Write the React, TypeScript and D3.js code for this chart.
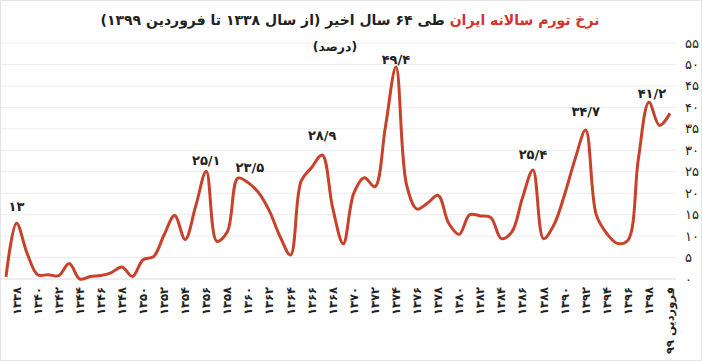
import { useEffect, useRef } from "react";
import * as d3 from "d3";

// categories (one per point, only every other one is labelled)
const categories: string[] = [
  "۱۳۳۷", "۱۳۳۸", "۱۳۳۹", "۱۳۴۰", "۱۳۴۱", "۱۳۴۲", "۱۳۴۳", "۱۳۴۴", "۱۳۴۵", "۱۳۴۶",
  "۱۳۴۷", "۱۳۴۸", "۱۳۴۹", "۱۳۵۰", "۱۳۵۱", "۱۳۵۲", "۱۳۵۳", "۱۳۵۴", "۱۳۵۵", "۱۳۵۶",
  "۱۳۵۷", "۱۳۵۸", "۱۳۵۹", "۱۳۶۰", "۱۳۶۱", "۱۳۶۲", "۱۳۶۳", "۱۳۶۴", "۱۳۶۵", "۱۳۶۶",
  "۱۳۶۷", "۱۳۶۸", "۱۳۶۹", "۱۳۷۰", "۱۳۷۱", "۱۳۷۲", "۱۳۷۳", "۱۳۷۴", "۱۳۷۵", "۱۳۷۶",
  "۱۳۷۷", "۱۳۷۸", "۱۳۷۹", "۱۳۸۰", "۱۳۸۱", "۱۳۸۲", "۱۳۸۳", "۱۳۸۴", "۱۳۸۵", "۱۳۸۶",
  "۱۳۸۷", "۱۳۸۸", "۱۳۸۹", "۱۳۹۰", "۱۳۹۱", "۱۳۹۲", "۱۳۹۳", "۱۳۹۴", "۱۳۹۵", "۱۳۹۶",
  "۱۳۹۷", "۱۳۹۸", "اسفند ۹۸", "فروردین ۹۹",
];

// annual inflation, percent
const inflation: number[] = [
  0.5, 13, 6, 1, 1, 0.8, 3.6, 0, 0.6, 0.8,
  1.5, 2.8, 0.6, 4.5, 5.2, 10.3, 14.8, 9.2, 17, 25.1,
  8.8, 11, 23.5, 22.4, 20, 15.8, 9.9, 5.6, 22.8, 26,
  28.9, 16.5, 8.2, 20, 23.6, 21.5, 35.5, 49.4, 22, 16.3,
  17.7, 19.5, 13, 10.4, 15, 14.7, 14.3, 9.4, 11, 18.9,
  25.4, 9.4, 12.7, 19.7, 28, 34.7, 15, 10.6, 8.3, 9,
  28, 41.2, 35.8, 38.6,
];

// labelled peaks: category + text
const peakCats: string[] = ["۱۳۳۸", "۱۳۵۶", "۱۳۵۹", "۱۳۶۷", "۱۳۷۴", "۱۳۸۷", "۱۳۹۲", "۱۳۹۸"];
const peakLabels: string[] = ["۱۳", "۲۵/۱", "۲۳/۵", "۲۸/۹", "۴۹/۴", "۲۵/۴", "۳۴/۷", "۴۱/۲"];
// label nudges in px
const peakDx: number[] = [0, 0, 12, 0, 0, 0, 0, 3];
const peakDy: number[] = [-12, -6, -6, -15, -3, -11, -14, -4];

const yTicks: number[] = [0, 5, 10, 15, 20, 25, 30, 35, 40, 45, 50, 55];

const toFa = (s: string) => s.replace(/\d/g, (d) => "۰۱۲۳۴۵۶۷۸۹"[+d]);

function InflationChart() {
  const svgRef = useRef<SVGSVGElement>(null);

  useEffect(() => {
    if (!svgRef.current) return;
    document.body.style.margin = "0";

    const width = 702;
    const height = 361;
    const font = "'DejaVu Sans', sans-serif";

    const svg = d3.select(svgRef.current);
    svg.selectAll("*").remove();
    svg.attr("width", width).attr("height", height).style("display", "block");

    svg.append("rect").attr("width", width).attr("height", height).attr("fill", "#fff");

    const x = d3.scalePoint<string>().domain(categories).range([6, 670]);
    const y = d3.scaleLinear().domain([0, 55]).range([279, 43]);

    // gridlines
    svg.append("g")
      .selectAll("line")
      .data(yTicks)
      .join("line")
      .attr("x1", 0)
      .attr("x2", 676)
      .attr("y1", (d) => y(d))
      .attr("y2", (d) => y(d))
      .attr("stroke", (d) => (d === 0 ? "#d9d9d9" : "#ececec"))
      .attr("stroke-width", 1);

    // right axis labels
    svg.append("g")
      .selectAll("text")
      .data(yTicks)
      .join("text")
      .attr("x", 685)
      .attr("y", (d) => y(d))
      .attr("dy", "0.35em")
      .attr("font-family", font)
      .attr("font-size", 13)
      .attr("fill", "#222")
      .text((d) => toFa(String(d)));

    // x labels, every other category
    svg.append("g")
      .selectAll("text")
      .data(categories.filter((_, i) => i % 2 === 1))
      .join("text")
      .attr("transform", (d) => `translate(${x(d)! + 4},287) rotate(-90)`)
      .attr("text-anchor", "end")
      .attr("font-family", font)
      .attr("font-size", 11.5)
      .attr("font-weight", "bold")
      .attr("fill", "#222")
      .text((d) => d);

    // line
    const line = d3
      .line<number>()
      .x((_, i) => x(categories[i])!)
      .y((d) => y(d))
      .curve(d3.curveCatmullRom.alpha(0.5));

    svg.append("path")
      .datum(inflation)
      .attr("d", line)
      .attr("fill", "none")
      .attr("stroke", "#c8412b")
      .attr("stroke-width", 3)
      .attr("stroke-linejoin", "round");

    // peak labels
    svg.append("g")
      .selectAll("text")
      .data(peakCats)
      .join("text")
      .attr("x", (d, i) => x(d)! + peakDx[i])
      .attr("y", (d, i) => y(inflation[categories.indexOf(d)]) + peakDy[i])
      .attr("text-anchor", "middle")
      .attr("font-family", font)
      .attr("font-size", 13)
      .attr("font-weight", "bold")
      .attr("fill", "#222")
      .text((_, i) => peakLabels[i]);

    // title
    const title = svg.append("text")
      .attr("x", 350)
      .attr("y", 25)
      .attr("text-anchor", "middle")
      .attr("direction", "rtl")
      .attr("font-family", font)
      .attr("font-size", 14)
      .attr("font-weight", "bold")
      .attr("fill", "#222");
    title.append("tspan").attr("fill", "#d6322a").text("نرخ تورم سالانه ایران");
    title.append("tspan").text(" طی ۶۴ سال اخیر (از سال ۱۳۳۸ تا فروردین ۱۳۹۹)");

    svg.append("text")
      .attr("x", 335)
      .attr("y", 51)
      .attr("text-anchor", "middle")
      .attr("direction", "rtl")
      .attr("font-family", font)
      .attr("font-size", 12.5)
      .attr("font-weight", "bold")
      .attr("fill", "#222")
      .text("(درصد)");

    // frame
    svg.append("rect")
      .attr("x", 0.5)
      .attr("y", 0.5)
      .attr("width", width - 1)
      .attr("height", height - 1)
      .attr("fill", "none")
      .attr("stroke", "#e4e4e4");
  }, []);

  return <svg ref={svgRef}></svg>;
}

export default function App() {
  return <InflationChart />;
}
